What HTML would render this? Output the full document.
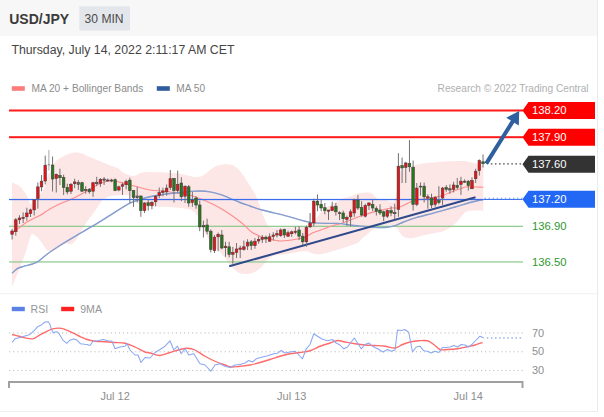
<!DOCTYPE html>
<html><head><meta charset="utf-8"><title>USD/JPY 30 MIN</title>
<style>html,body{margin:0;padding:0;background:#fff}body{width:604px;height:417px;position:relative;overflow:hidden;font-family:"Liberation Sans",sans-serif}</style>
</head><body>
<svg width="604" height="417" viewBox="0 0 604 417" style="position:absolute;left:0;top:0">
<style>
text{font-family:"Liberation Sans",sans-serif}
.lbl{font-size:11.25px}
.ax{font-size:11px;fill:#8e8e8e}
</style>
<rect x="0" y="0" width="597" height="36" fill="#f7f7f7"/>
<rect x="597" y="0" width="1" height="412" fill="#e7eaee"/>
<rect x="0" y="411" width="598" height="1" fill="#eceff2"/>
<rect x="0" y="293.2" width="597" height="1" fill="#eef1f5"/>
<text x="9.2" y="23.6" font-size="14" font-weight="bold" fill="#3b3b3b">USD/JPY</text>
<rect x="79.3" y="6.3" width="50.7" height="24.2" fill="#e3e6ea"/>
<text x="84.6" y="23.0" font-size="12.1" fill="#4a4a4a">30 MIN</text>
<text x="11.4" y="53.6" font-size="12.3" fill="#454545">Thursday, July 14, 2022 2:11:17 AM CET</text>
<rect x="11.8" y="86.2" width="13" height="4.6" fill="#ff7a7a"/>
<text x="31.4" y="91.7" font-size="10.2" fill="#8c8c8c">MA 20 + Bollinger Bands</text>
<rect x="156.8" y="86.2" width="13" height="4.6" fill="#2f5c9c"/>
<text x="176.2" y="91.7" font-size="10.2" fill="#8c8c8c">MA 50</text>
<text x="588.6" y="91.7" font-size="10.15" fill="#b0b0b0" text-anchor="end">Research © 2022 Trading Central</text>
<path d="M12.00,182.50 C13.00,182.92 16.17,183.75 18.00,185.00 C19.83,186.25 21.50,188.17 23.00,190.00 C24.50,191.83 25.67,193.67 27.00,196.00 C28.33,198.33 29.50,203.50 31.00,204.00 C32.50,204.50 34.33,200.83 36.00,199.00 C37.67,197.17 39.55,195.00 41.00,193.00 C42.45,191.00 43.83,188.95 44.70,187.00 C45.57,185.05 45.62,183.27 46.20,181.30 C46.78,179.33 47.20,177.38 48.20,175.20 C49.20,173.02 51.03,170.38 52.20,168.20 C53.37,166.02 53.52,163.95 55.20,162.10 C56.88,160.25 60.28,158.35 62.30,157.10 C64.32,155.85 65.28,155.35 67.30,154.60 C69.32,153.85 71.95,152.77 74.40,152.60 C76.85,152.43 79.82,153.00 82.00,153.60 C84.18,154.20 84.50,154.93 87.50,156.20 C90.50,157.47 95.85,159.53 100.00,161.20 C104.15,162.87 109.28,164.95 112.40,166.20 C115.52,167.45 117.03,167.68 118.70,168.70 C120.37,169.72 120.73,171.25 122.40,172.30 C124.07,173.35 126.82,174.42 128.70,175.00 C130.58,175.58 131.82,176.10 133.70,175.80 C135.58,175.50 138.12,173.80 140.00,173.20 C141.88,172.60 143.17,172.40 145.00,172.20 C146.83,172.00 147.67,171.95 151.00,172.00 C154.33,172.05 160.17,172.21 165.00,172.50 C169.83,172.79 175.00,173.00 180.00,173.75 C185.00,174.50 191.17,176.71 195.00,177.00 C198.83,177.29 200.50,176.67 203.00,175.50 C205.50,174.33 207.67,171.62 210.00,170.00 C212.33,168.38 214.50,166.71 217.00,165.75 C219.50,164.79 222.50,164.38 225.00,164.25 C227.50,164.12 229.83,164.25 232.00,165.00 C234.17,165.75 236.17,167.08 238.00,168.75 C239.83,170.42 241.50,172.92 243.00,175.00 C244.50,177.08 245.67,179.17 247.00,181.25 C248.33,183.33 249.67,185.42 251.00,187.50 C252.33,189.58 253.67,191.04 255.00,193.75 C256.33,196.46 257.83,200.62 259.00,203.75 C260.17,206.88 261.00,209.79 262.00,212.50 C263.00,215.21 264.00,217.83 265.00,220.00 C266.00,222.17 266.83,224.25 268.00,225.50 C269.17,226.75 270.00,227.17 272.00,227.50 C274.00,227.83 276.17,227.58 280.00,227.50 C283.83,227.42 290.33,227.17 295.00,227.00 C299.67,226.83 304.88,227.17 308.00,226.50 C311.12,225.83 312.03,224.75 313.70,223.00 C315.37,221.25 316.28,218.33 318.00,216.00 C319.72,213.67 322.00,210.83 324.00,209.00 C326.00,207.17 327.83,206.25 330.00,205.00 C332.17,203.75 334.83,202.58 337.00,201.50 C339.17,200.42 340.67,199.38 343.00,198.50 C345.33,197.62 348.17,197.12 351.00,196.20 C353.83,195.28 356.83,193.57 360.00,193.00 C363.17,192.43 367.50,192.23 370.00,192.80 C372.50,193.37 373.60,195.30 375.00,196.40 C376.40,197.50 376.73,198.80 378.40,199.40 C380.07,200.00 382.25,199.90 385.00,200.00 C387.75,200.10 392.65,204.00 394.90,200.00 C397.15,196.00 397.28,181.00 398.50,176.00 C399.72,171.00 400.98,171.25 402.20,170.00 C403.42,168.75 404.57,168.97 405.80,168.50 C407.03,168.03 408.37,167.62 409.60,167.20 C410.83,166.78 411.47,166.53 413.20,166.00 C414.93,165.47 417.20,164.53 420.00,164.00 C422.80,163.47 425.83,163.22 430.00,162.80 C434.17,162.38 440.00,161.80 445.00,161.50 C450.00,161.20 456.50,161.03 460.00,161.00 C463.50,160.97 464.00,161.05 466.00,161.30 C468.00,161.55 470.00,162.05 472.00,162.50 C474.00,162.95 476.12,163.50 478.00,164.00 C479.88,164.50 482.42,165.25 483.30,165.50 L483.30,210.50 C481.92,210.50 477.65,210.38 475.00,210.50 C472.35,210.62 469.23,210.70 467.40,211.20 C465.57,211.70 466.07,211.41 464.00,213.50 C461.93,215.59 458.17,220.92 455.00,223.75 C451.83,226.58 448.33,228.96 445.00,230.50 C441.67,232.04 438.77,232.17 435.00,233.00 C431.23,233.83 425.95,234.67 422.40,235.50 C418.85,236.33 416.60,237.67 413.70,238.00 C410.80,238.33 407.28,238.33 405.00,237.50 C402.72,236.67 401.33,234.58 400.00,233.00 C398.67,231.42 398.33,229.30 397.00,228.00 C395.67,226.70 394.00,225.70 392.00,225.20 C390.00,224.70 387.33,224.78 385.00,225.00 C382.67,225.22 380.08,225.67 378.00,226.50 C375.92,227.33 374.25,228.70 372.50,230.00 C370.75,231.30 369.25,232.88 367.50,234.30 C365.75,235.72 363.68,237.03 362.00,238.50 C360.32,239.97 360.23,241.62 357.40,243.10 C354.57,244.58 349.17,246.05 345.00,247.40 C340.83,248.75 335.53,250.27 332.40,251.20 C329.27,252.13 328.27,252.48 326.20,253.00 C324.13,253.52 322.08,254.18 320.00,254.30 C317.92,254.42 315.78,254.17 313.70,253.70 C311.62,253.23 309.78,251.87 307.50,251.50 C305.22,251.13 302.58,251.23 300.00,251.50 C297.42,251.77 294.67,252.62 292.00,253.10 C289.33,253.58 286.50,254.08 284.00,254.40 C281.50,254.72 279.33,254.48 277.00,255.00 C274.67,255.52 271.83,256.37 270.00,257.50 C268.17,258.63 267.50,260.13 266.00,261.80 C264.50,263.47 262.83,265.83 261.00,267.50 C259.17,269.17 257.00,270.77 255.00,271.80 C253.00,272.83 251.33,273.42 249.00,273.70 C246.67,273.98 243.33,274.12 241.00,273.50 C238.67,272.88 236.83,271.42 235.00,270.00 C233.17,268.58 231.67,267.00 230.00,265.00 C228.33,263.00 226.67,260.12 225.00,258.00 C223.33,255.88 221.67,254.04 220.00,252.25 C218.33,250.46 216.67,249.12 215.00,247.25 C213.33,245.38 211.67,243.38 210.00,241.00 C208.33,238.62 206.50,235.83 205.00,233.00 C203.50,230.17 202.17,226.75 201.00,224.00 C199.83,221.25 199.33,218.67 198.00,216.50 C196.67,214.33 194.83,212.30 193.00,211.00 C191.17,209.70 190.00,209.30 187.00,208.70 C184.00,208.10 180.17,207.72 175.00,207.40 C169.83,207.08 160.67,206.95 156.00,206.80 C151.33,206.65 149.50,206.88 147.00,206.50 C144.50,206.12 143.00,205.58 141.00,204.50 C139.00,203.42 136.83,201.42 135.00,200.00 C133.17,198.58 131.52,196.88 130.00,196.00 C128.48,195.12 127.58,194.85 125.90,194.70 C124.22,194.55 122.32,194.88 119.90,195.10 C117.48,195.32 113.58,195.65 111.40,196.00 C109.22,196.35 108.33,196.43 106.80,197.20 C105.27,197.97 103.73,198.97 102.20,200.60 C100.67,202.23 99.32,204.60 97.60,207.00 C95.88,209.40 93.82,212.32 91.90,215.00 C89.98,217.68 87.83,220.42 86.10,223.10 C84.37,225.78 83.15,228.33 81.50,231.10 C79.85,233.87 77.92,237.52 76.20,239.70 C74.48,241.88 73.07,243.60 71.20,244.20 C69.33,244.80 67.33,242.55 65.00,243.30 C62.67,244.05 59.53,247.42 57.20,248.70 C54.87,249.98 52.80,250.87 51.00,251.00 C49.20,251.13 47.67,250.52 46.40,249.50 C45.13,248.48 44.67,246.70 43.40,244.90 C42.13,243.10 40.33,240.35 38.80,238.70 C37.27,237.05 35.48,235.62 34.20,235.00 C32.92,234.38 32.13,233.35 31.10,235.00 C30.07,236.65 29.28,240.95 28.00,244.90 C26.72,248.85 25.18,253.85 23.40,258.70 C21.62,263.55 19.20,269.28 17.30,274.00 C15.40,278.72 12.88,284.83 12.00,287.00 Z" fill="#fde6e6"/>
<rect x="9" y="225.70" width="514" height="1.3" fill="#92cc92"/>
<rect x="9" y="261.30" width="514" height="1.3" fill="#92cc92"/>
<path d="M12.00,233.00 C12.58,232.57 14.08,231.45 15.50,230.40 C16.92,229.35 18.67,228.05 20.50,226.70 C22.33,225.35 24.42,223.62 26.50,222.30 C28.58,220.98 30.68,219.97 33.00,218.80 C35.32,217.63 38.23,216.52 40.40,215.30 C42.57,214.08 44.12,212.72 46.00,211.50 C47.88,210.28 49.08,209.42 51.70,208.00 C54.32,206.58 58.17,204.57 61.70,203.00 C65.23,201.43 69.37,200.23 72.90,198.60 C76.43,196.97 80.30,194.65 82.90,193.20 C85.50,191.75 86.58,191.03 88.50,189.90 C90.42,188.77 92.48,187.43 94.40,186.40 C96.32,185.37 98.23,184.47 100.00,183.70 C101.77,182.93 103.33,182.28 105.00,181.80 C106.67,181.32 108.00,180.85 110.00,180.80 C112.00,180.75 114.50,181.02 117.00,181.50 C119.50,181.98 121.60,182.82 125.00,183.70 C128.40,184.58 133.23,185.75 137.40,186.80 C141.57,187.85 145.40,189.26 150.00,190.00 C154.60,190.74 160.00,190.67 165.00,191.25 C170.00,191.83 176.17,192.96 180.00,193.50 C183.83,194.04 184.58,193.63 188.00,194.50 C191.42,195.37 196.33,197.07 200.50,198.70 C204.67,200.33 208.85,202.22 213.00,204.30 C217.15,206.38 221.23,208.58 225.40,211.20 C229.57,213.82 234.67,217.50 238.00,220.00 C241.33,222.50 243.13,224.20 245.40,226.20 C247.67,228.20 249.10,230.28 251.60,232.00 C254.10,233.72 257.67,235.42 260.40,236.50 C263.13,237.58 264.73,237.75 268.00,238.50 C271.27,239.25 276.00,240.75 280.00,241.00 C284.00,241.25 288.83,240.38 292.00,240.00 C295.17,239.62 296.83,239.13 299.00,238.70 C301.17,238.27 303.00,238.23 305.00,237.40 C307.00,236.57 308.93,234.73 311.00,233.70 C313.07,232.67 315.17,232.03 317.40,231.20 C319.63,230.37 322.30,229.50 324.40,228.70 C326.50,227.90 328.07,227.05 330.00,226.40 C331.93,225.75 333.10,225.67 336.00,224.80 C338.90,223.93 343.40,222.63 347.40,221.20 C351.40,219.77 355.83,217.67 360.00,216.20 C364.17,214.73 368.23,213.55 372.40,212.40 C376.57,211.25 381.65,210.03 385.00,209.30 C388.35,208.57 390.22,208.32 392.50,208.00 C394.78,207.68 395.58,208.43 398.70,207.40 C401.82,206.37 408.08,203.03 411.20,201.80 C414.32,200.57 414.27,200.62 417.40,200.00 C420.53,199.38 425.83,198.83 430.00,198.10 C434.17,197.37 439.07,196.55 442.40,195.60 C445.73,194.65 446.67,193.67 450.00,192.40 C453.33,191.13 459.50,188.93 462.40,188.00 C465.30,187.07 463.92,186.93 467.40,186.80 C470.88,186.67 480.65,187.13 483.30,187.20" fill="none" stroke="#ff8c8c" stroke-width="1.1"/>
<path d="M12.00,273.30 C12.88,272.53 15.40,269.85 17.30,268.70 C19.20,267.55 20.85,267.18 23.40,266.40 C25.95,265.62 30.03,264.90 32.60,264.00 C35.17,263.10 36.23,262.75 38.80,261.00 C41.37,259.25 44.68,255.97 48.00,253.50 C51.32,251.03 54.20,249.07 58.70,246.20 C63.20,243.33 69.38,239.63 75.00,236.30 C80.62,232.97 86.57,229.68 92.40,226.20 C98.23,222.72 103.75,219.25 110.00,215.40 C116.25,211.55 124.07,206.00 129.90,203.10 C135.73,200.20 139.98,199.35 145.00,198.00 C150.02,196.65 155.00,195.83 160.00,195.00 C165.00,194.17 170.00,193.58 175.00,193.00 C180.00,192.42 185.83,191.83 190.00,191.50 C194.17,191.17 196.67,190.95 200.00,191.00 C203.33,191.05 206.67,191.25 210.00,191.80 C213.33,192.35 216.67,193.22 220.00,194.30 C223.33,195.38 226.67,196.93 230.00,198.30 C233.33,199.67 236.67,201.22 240.00,202.50 C243.33,203.78 246.33,204.75 250.00,206.00 C253.67,207.25 255.83,208.30 262.00,210.00 C268.17,211.70 278.67,214.08 287.00,216.20 C295.33,218.32 303.67,221.50 312.00,222.70 C320.33,223.90 330.67,223.02 337.00,223.40 C343.33,223.78 345.33,224.48 350.00,225.00 C354.67,225.52 361.25,226.12 365.00,226.50 C368.75,226.88 369.17,227.13 372.50,227.30 C375.83,227.47 381.25,227.78 385.00,227.50 C388.75,227.22 391.88,226.52 395.00,225.60 C398.12,224.68 400.17,223.33 403.70,222.00 C407.23,220.67 410.98,219.17 416.20,217.60 C421.42,216.03 428.53,214.37 435.00,212.60 C441.47,210.83 449.17,208.68 455.00,207.00 C460.83,205.32 465.28,203.75 470.00,202.50 C474.72,201.25 481.08,200.00 483.30,199.50" fill="none" stroke="#6f8bc4" stroke-width="1.35"/>
<path d="M12.00,273.30 C12.88,272.53 15.40,269.85 17.30,268.70 C19.20,267.55 20.85,267.18 23.40,266.40 C25.95,265.62 30.03,264.90 32.60,264.00 C35.17,263.10 36.23,262.75 38.80,261.00 C41.37,259.25 44.68,255.97 48.00,253.50 C51.32,251.03 54.20,249.07 58.70,246.20 C63.20,243.33 69.38,239.63 75.00,236.30 C80.62,232.97 86.57,229.68 92.40,226.20 C98.23,222.72 103.75,219.25 110.00,215.40 C116.25,211.55 124.07,206.00 129.90,203.10 C135.73,200.20 139.98,199.35 145.00,198.00 C150.02,196.65 155.00,195.83 160.00,195.00 C165.00,194.17 170.00,193.58 175.00,193.00 C180.00,192.42 185.83,191.83 190.00,191.50 C194.17,191.17 196.67,190.95 200.00,191.00 C203.33,191.05 206.67,191.25 210.00,191.80 C213.33,192.35 216.67,193.22 220.00,194.30 C223.33,195.38 226.67,196.93 230.00,198.30 C233.33,199.67 236.67,201.22 240.00,202.50 C243.33,203.78 246.33,204.75 250.00,206.00 C253.67,207.25 255.83,208.30 262.00,210.00 C268.17,211.70 278.67,214.08 287.00,216.20 C295.33,218.32 303.67,221.50 312.00,222.70 C320.33,223.90 330.67,223.02 337.00,223.40 C343.33,223.78 345.33,224.48 350.00,225.00 C354.67,225.52 361.25,226.12 365.00,226.50 C368.75,226.88 369.17,227.13 372.50,227.30 C375.83,227.47 381.25,227.78 385.00,227.50 C388.75,227.22 391.88,226.52 395.00,225.60 C398.12,224.68 400.17,223.33 403.70,222.00 C407.23,220.67 410.98,219.17 416.20,217.60 C421.42,216.03 428.53,214.37 435.00,212.60 C441.47,210.83 449.17,208.68 455.00,207.00 C460.83,205.32 465.28,203.75 470.00,202.50 C474.72,201.25 481.08,200.00 483.30,199.50" fill="none" stroke="#e3e9f6" stroke-width="0.3" opacity="0.8"/>
<rect x="9" y="198.9" width="474.5" height="1.25" fill="#3a6ded"/>
<rect x="483.5" y="198.9" width="39" height="1.1" fill="#3f74ee"/>
<rect x="484.50" y="197.70" width="1.4" height="1.0" fill="#6a92f2"/><rect x="488.57" y="197.70" width="1.4" height="1.0" fill="#6a92f2"/><rect x="492.64" y="197.70" width="1.4" height="1.0" fill="#6a92f2"/><rect x="496.70" y="197.70" width="1.4" height="1.0" fill="#6a92f2"/><rect x="500.77" y="197.70" width="1.4" height="1.0" fill="#6a92f2"/><rect x="504.84" y="197.70" width="1.4" height="1.0" fill="#6a92f2"/><rect x="508.91" y="197.70" width="1.4" height="1.0" fill="#6a92f2"/><rect x="512.98" y="197.70" width="1.4" height="1.0" fill="#6a92f2"/><rect x="517.04" y="197.70" width="1.4" height="1.0" fill="#6a92f2"/><rect x="521.11" y="197.70" width="1.4" height="1.0" fill="#6a92f2"/>
<rect x="9" y="109.5" width="514" height="2" fill="#ff1a1a"/>
<rect x="9" y="136.2" width="514" height="2" fill="#ff1a1a"/>
<line x1="229.2" y1="266.3" x2="475.5" y2="197.3" stroke="#2f4a8c" stroke-width="2.0"/>
<rect x="11.60" y="229.00" width="1" height="10.50" fill="#727272"/>
<rect x="15.28" y="218.00" width="1" height="17.70" fill="#727272"/>
<rect x="18.96" y="215.20" width="1" height="8.80" fill="#727272"/>
<rect x="22.64" y="212.40" width="1" height="10.60" fill="#727272"/>
<rect x="26.32" y="207.70" width="1" height="13.00" fill="#727272"/>
<rect x="30.00" y="208.60" width="1" height="8.40" fill="#727272"/>
<rect x="33.68" y="199.00" width="1" height="16.50" fill="#727272"/>
<rect x="37.36" y="182.50" width="1" height="26.10" fill="#727272"/>
<rect x="41.04" y="175.00" width="1" height="16.20" fill="#727272"/>
<rect x="44.72" y="155.60" width="1" height="28.80" fill="#727272"/>
<rect x="48.39" y="150.00" width="1" height="20.60" fill="#a8a8a8"/>
<rect x="52.07" y="156.50" width="1" height="35.00" fill="#727272"/>
<rect x="55.75" y="173.50" width="1" height="19.00" fill="#727272"/>
<rect x="59.43" y="168.70" width="1" height="16.30" fill="#727272"/>
<rect x="63.11" y="174.70" width="1" height="20.30" fill="#727272"/>
<rect x="66.79" y="183.70" width="1" height="10.70" fill="#727272"/>
<rect x="70.47" y="183.00" width="1" height="11.00" fill="#727272"/>
<rect x="74.15" y="178.70" width="1" height="9.30" fill="#727272"/>
<rect x="77.83" y="180.00" width="1" height="10.00" fill="#727272"/>
<rect x="81.51" y="181.80" width="1" height="10.00" fill="#727272"/>
<rect x="85.18" y="186.20" width="1" height="7.50" fill="#727272"/>
<rect x="88.86" y="188.00" width="1" height="5.70" fill="#727272"/>
<rect x="92.54" y="181.80" width="1" height="15.00" fill="#727272"/>
<rect x="96.22" y="176.80" width="1" height="9.40" fill="#727272"/>
<rect x="99.90" y="178.00" width="1" height="8.80" fill="#727272"/>
<rect x="103.58" y="177.20" width="1" height="7.80" fill="#727272"/>
<rect x="107.26" y="178.50" width="1" height="3.30" fill="#727272"/>
<rect x="110.94" y="178.70" width="1" height="3.50" fill="#727272"/>
<rect x="114.62" y="178.50" width="1" height="12.70" fill="#727272"/>
<rect x="118.30" y="185.60" width="1" height="5.60" fill="#727272"/>
<rect x="121.97" y="182.50" width="1" height="12.50" fill="#727272"/>
<rect x="125.65" y="179.70" width="1" height="9.70" fill="#727272"/>
<rect x="129.33" y="177.70" width="1" height="25.30" fill="#727272"/>
<rect x="133.01" y="190.00" width="1" height="16.80" fill="#727272"/>
<rect x="136.69" y="186.90" width="1" height="15.60" fill="#727272"/>
<rect x="140.37" y="195.60" width="1" height="21.20" fill="#727272"/>
<rect x="144.05" y="202.20" width="1" height="10.80" fill="#727272"/>
<rect x="147.73" y="200.00" width="1" height="10.60" fill="#727272"/>
<rect x="151.41" y="201.20" width="1" height="8.10" fill="#727272"/>
<rect x="155.09" y="195.00" width="1" height="11.20" fill="#727272"/>
<rect x="158.76" y="187.50" width="1" height="10.50" fill="#727272"/>
<rect x="162.44" y="187.70" width="1" height="8.50" fill="#727272"/>
<rect x="166.12" y="184.40" width="1" height="11.20" fill="#727272"/>
<rect x="169.80" y="170.00" width="1" height="20.00" fill="#727272"/>
<rect x="173.48" y="178.00" width="1" height="24.50" fill="#727272"/>
<rect x="177.16" y="170.60" width="1" height="21.90" fill="#727272"/>
<rect x="180.84" y="177.20" width="1" height="24.00" fill="#727272"/>
<rect x="184.52" y="185.20" width="1" height="17.80" fill="#727272"/>
<rect x="188.20" y="185.00" width="1" height="21.80" fill="#727272"/>
<rect x="191.88" y="191.90" width="1" height="14.90" fill="#727272"/>
<rect x="195.55" y="196.20" width="1" height="12.50" fill="#727272"/>
<rect x="199.23" y="200.60" width="1" height="30.60" fill="#727272"/>
<rect x="202.91" y="220.60" width="1" height="16.90" fill="#727272"/>
<rect x="206.59" y="218.70" width="1" height="15.60" fill="#727272"/>
<rect x="210.27" y="229.40" width="1" height="23.00" fill="#727272"/>
<rect x="213.95" y="235.00" width="1" height="18.00" fill="#727272"/>
<rect x="217.63" y="232.50" width="1" height="18.70" fill="#727272"/>
<rect x="221.31" y="230.00" width="1" height="19.30" fill="#727272"/>
<rect x="224.99" y="241.80" width="1" height="15.00" fill="#727272"/>
<rect x="228.67" y="241.80" width="1" height="15.60" fill="#727272"/>
<rect x="232.34" y="246.80" width="1" height="16.90" fill="#727272"/>
<rect x="236.02" y="243.00" width="1" height="15.00" fill="#727272"/>
<rect x="239.70" y="245.60" width="1" height="12.40" fill="#727272"/>
<rect x="243.38" y="240.60" width="1" height="10.00" fill="#727272"/>
<rect x="247.06" y="239.30" width="1" height="10.70" fill="#727272"/>
<rect x="250.74" y="240.00" width="1" height="10.00" fill="#727272"/>
<rect x="254.42" y="238.00" width="1" height="10.70" fill="#727272"/>
<rect x="258.10" y="236.20" width="1" height="7.50" fill="#727272"/>
<rect x="261.78" y="235.00" width="1" height="8.00" fill="#727272"/>
<rect x="265.46" y="235.60" width="1" height="7.40" fill="#727272"/>
<rect x="269.13" y="233.40" width="1" height="8.40" fill="#727272"/>
<rect x="272.81" y="232.20" width="1" height="8.40" fill="#727272"/>
<rect x="276.49" y="230.00" width="1" height="7.40" fill="#727272"/>
<rect x="280.17" y="228.50" width="1" height="8.30" fill="#727272"/>
<rect x="283.85" y="228.70" width="1" height="9.30" fill="#727272"/>
<rect x="287.53" y="230.60" width="1" height="6.20" fill="#727272"/>
<rect x="291.21" y="230.60" width="1" height="6.20" fill="#727272"/>
<rect x="294.89" y="226.80" width="1" height="7.50" fill="#727272"/>
<rect x="298.57" y="226.20" width="1" height="13.80" fill="#727272"/>
<rect x="302.25" y="233.00" width="1" height="12.00" fill="#727272"/>
<rect x="305.92" y="225.60" width="1" height="21.20" fill="#727272"/>
<rect x="309.60" y="213.00" width="1" height="15.00" fill="#727272"/>
<rect x="313.28" y="198.70" width="1" height="27.50" fill="#727272"/>
<rect x="316.96" y="194.40" width="1" height="16.80" fill="#727272"/>
<rect x="320.64" y="200.00" width="1" height="11.20" fill="#727272"/>
<rect x="324.32" y="203.00" width="1" height="11.30" fill="#727272"/>
<rect x="328.00" y="210.00" width="1" height="10.00" fill="#727272"/>
<rect x="331.68" y="201.80" width="1" height="9.40" fill="#727272"/>
<rect x="335.36" y="203.00" width="1" height="12.60" fill="#727272"/>
<rect x="339.04" y="211.20" width="1" height="8.80" fill="#727272"/>
<rect x="342.71" y="210.60" width="1" height="11.80" fill="#727272"/>
<rect x="346.39" y="215.60" width="1" height="10.00" fill="#727272"/>
<rect x="350.07" y="209.30" width="1" height="16.90" fill="#727272"/>
<rect x="353.75" y="198.70" width="1" height="18.10" fill="#727272"/>
<rect x="357.43" y="195.00" width="1" height="15.00" fill="#727272"/>
<rect x="361.11" y="201.20" width="1" height="15.60" fill="#727272"/>
<rect x="364.79" y="203.70" width="1" height="13.70" fill="#727272"/>
<rect x="368.47" y="202.20" width="1" height="7.80" fill="#727272"/>
<rect x="372.15" y="199.30" width="1" height="11.90" fill="#727272"/>
<rect x="375.83" y="206.20" width="1" height="9.40" fill="#727272"/>
<rect x="379.50" y="204.30" width="1" height="10.70" fill="#727272"/>
<rect x="383.18" y="210.60" width="1" height="10.60" fill="#727272"/>
<rect x="386.86" y="209.30" width="1" height="8.70" fill="#727272"/>
<rect x="390.54" y="206.20" width="1" height="10.00" fill="#727272"/>
<rect x="394.22" y="203.70" width="1" height="15.60" fill="#727272"/>
<rect x="397.90" y="153.10" width="1" height="63.70" fill="#727272"/>
<rect x="401.58" y="157.50" width="1" height="25.50" fill="#727272"/>
<rect x="405.26" y="161.80" width="1" height="21.20" fill="#727272"/>
<rect x="408.94" y="140.00" width="1" height="31.80" fill="#727272"/>
<rect x="412.62" y="160.60" width="1" height="50.00" fill="#727272"/>
<rect x="416.29" y="183.00" width="1" height="23.20" fill="#727272"/>
<rect x="419.97" y="182.50" width="1" height="13.10" fill="#727272"/>
<rect x="423.65" y="182.50" width="1" height="20.00" fill="#727272"/>
<rect x="427.33" y="194.30" width="1" height="14.40" fill="#727272"/>
<rect x="431.01" y="193.70" width="1" height="14.30" fill="#727272"/>
<rect x="434.69" y="196.20" width="1" height="10.60" fill="#727272"/>
<rect x="438.37" y="186.20" width="1" height="18.10" fill="#727272"/>
<rect x="442.05" y="186.90" width="1" height="18.10" fill="#727272"/>
<rect x="445.73" y="185.00" width="1" height="6.80" fill="#727272"/>
<rect x="449.41" y="184.40" width="1" height="9.30" fill="#727272"/>
<rect x="453.08" y="181.80" width="1" height="10.60" fill="#727272"/>
<rect x="456.76" y="178.00" width="1" height="11.30" fill="#727272"/>
<rect x="460.44" y="176.80" width="1" height="18.10" fill="#727272"/>
<rect x="464.12" y="179.30" width="1" height="3.70" fill="#727272"/>
<rect x="467.80" y="180.00" width="1" height="10.60" fill="#727272"/>
<rect x="471.48" y="177.40" width="1" height="11.90" fill="#727272"/>
<rect x="475.16" y="168.70" width="1" height="14.30" fill="#727272"/>
<rect x="478.84" y="159.40" width="1" height="16.20" fill="#727272"/>
<rect x="482.52" y="154.40" width="1" height="13.10" fill="#727272"/>
<rect x="10.80" y="231.00" width="2.6" height="3.20" fill="#ec1016" stroke="#523c3c" stroke-width="0.6"/>
<rect x="14.48" y="219.80" width="2.6" height="11.90" fill="#ec1016" stroke="#523c3c" stroke-width="0.6"/>
<rect x="18.16" y="218.00" width="2.6" height="1.80" fill="#ec1016" stroke="#523c3c" stroke-width="0.6"/>
<rect x="21.84" y="217.40" width="2.6" height="1.20" fill="#ec1016" stroke="#523c3c" stroke-width="0.6"/>
<rect x="25.52" y="213.00" width="2.6" height="3.70" fill="#ec1016" stroke="#523c3c" stroke-width="0.6"/>
<rect x="29.20" y="209.90" width="2.6" height="3.70" fill="#ec1016" stroke="#523c3c" stroke-width="0.6"/>
<rect x="32.88" y="199.90" width="2.6" height="10.00" fill="#ec1016" stroke="#523c3c" stroke-width="0.6"/>
<rect x="36.56" y="186.90" width="2.6" height="11.70" fill="#ec1016" stroke="#523c3c" stroke-width="0.6"/>
<rect x="40.24" y="181.20" width="2.6" height="5.70" fill="#ec1016" stroke="#523c3c" stroke-width="0.6"/>
<rect x="43.92" y="165.20" width="2.6" height="15.80" fill="#ec1016" stroke="#523c3c" stroke-width="0.6"/>
<rect x="47.69" y="164.20" width="2.4" height="1.00" fill="#888"/>
<rect x="51.27" y="165.00" width="2.6" height="14.00" fill="#1b7d1b" stroke="#523c3c" stroke-width="0.6"/>
<rect x="54.95" y="174.40" width="2.6" height="4.10" fill="#ec1016" stroke="#523c3c" stroke-width="0.6"/>
<rect x="58.63" y="175.60" width="2.6" height="2.10" fill="#1b7d1b" stroke="#523c3c" stroke-width="0.6"/>
<rect x="62.31" y="177.50" width="2.6" height="10.00" fill="#1b7d1b" stroke="#523c3c" stroke-width="0.6"/>
<rect x="65.99" y="187.50" width="2.6" height="4.40" fill="#1b7d1b" stroke="#523c3c" stroke-width="0.6"/>
<rect x="69.67" y="184.40" width="2.6" height="6.80" fill="#ec1016" stroke="#523c3c" stroke-width="0.6"/>
<rect x="73.35" y="181.90" width="2.6" height="1.80" fill="#ec1016" stroke="#523c3c" stroke-width="0.6"/>
<rect x="77.03" y="182.40" width="2.6" height="1.90" fill="#6a6a6a" stroke="#523c3c" stroke-width="0.6"/>
<rect x="80.71" y="182.70" width="2.6" height="8.50" fill="#1b7d1b" stroke="#523c3c" stroke-width="0.6"/>
<rect x="84.38" y="189.30" width="2.6" height="1.30" fill="#6a6a6a" stroke="#523c3c" stroke-width="0.6"/>
<rect x="88.06" y="189.30" width="2.6" height="2.50" fill="#1b7d1b" stroke="#523c3c" stroke-width="0.6"/>
<rect x="91.74" y="182.70" width="2.6" height="8.50" fill="#ec1016" stroke="#523c3c" stroke-width="0.6"/>
<rect x="95.42" y="182.20" width="2.6" height="1.50" fill="#6a6a6a" stroke="#523c3c" stroke-width="0.6"/>
<rect x="99.10" y="179.60" width="2.6" height="3.80" fill="#ec1016" stroke="#523c3c" stroke-width="0.6"/>
<rect x="102.78" y="179.00" width="2.6" height="1.20" fill="#6a6a6a" stroke="#523c3c" stroke-width="0.6"/>
<rect x="106.46" y="180.00" width="2.6" height="1.00" fill="#6a6a6a" stroke="#523c3c" stroke-width="0.6"/>
<rect x="110.14" y="180.00" width="2.6" height="1.00" fill="#6a6a6a" stroke="#523c3c" stroke-width="0.6"/>
<rect x="113.82" y="179.70" width="2.6" height="10.90" fill="#1b7d1b" stroke="#523c3c" stroke-width="0.6"/>
<rect x="117.50" y="186.80" width="2.6" height="3.20" fill="#ec1016" stroke="#523c3c" stroke-width="0.6"/>
<rect x="121.17" y="184.70" width="2.6" height="1.50" fill="#ec1016" stroke="#523c3c" stroke-width="0.6"/>
<rect x="124.85" y="181.50" width="2.6" height="3.20" fill="#ec1016" stroke="#523c3c" stroke-width="0.6"/>
<rect x="128.53" y="180.20" width="2.6" height="10.40" fill="#1b7d1b" stroke="#523c3c" stroke-width="0.6"/>
<rect x="132.21" y="190.60" width="2.6" height="6.90" fill="#1b7d1b" stroke="#523c3c" stroke-width="0.6"/>
<rect x="135.89" y="196.00" width="2.6" height="1.50" fill="#6a6a6a" stroke="#523c3c" stroke-width="0.6"/>
<rect x="139.57" y="196.00" width="2.6" height="14.60" fill="#1b7d1b" stroke="#523c3c" stroke-width="0.6"/>
<rect x="143.25" y="203.00" width="2.6" height="7.60" fill="#ec1016" stroke="#523c3c" stroke-width="0.6"/>
<rect x="146.93" y="202.70" width="2.6" height="2.90" fill="#1b7d1b" stroke="#523c3c" stroke-width="0.6"/>
<rect x="150.61" y="202.50" width="2.6" height="3.10" fill="#ec1016" stroke="#523c3c" stroke-width="0.6"/>
<rect x="154.29" y="196.20" width="2.6" height="5.60" fill="#ec1016" stroke="#523c3c" stroke-width="0.6"/>
<rect x="157.96" y="192.50" width="2.6" height="3.10" fill="#ec1016" stroke="#523c3c" stroke-width="0.6"/>
<rect x="161.64" y="191.00" width="2.6" height="1.50" fill="#ec1016" stroke="#523c3c" stroke-width="0.6"/>
<rect x="165.32" y="188.10" width="2.6" height="3.80" fill="#ec1016" stroke="#523c3c" stroke-width="0.6"/>
<rect x="169.00" y="178.70" width="2.6" height="8.80" fill="#ec1016" stroke="#523c3c" stroke-width="0.6"/>
<rect x="172.68" y="178.40" width="2.6" height="12.20" fill="#1b7d1b" stroke="#523c3c" stroke-width="0.6"/>
<rect x="176.36" y="184.30" width="2.6" height="6.30" fill="#ec1016" stroke="#523c3c" stroke-width="0.6"/>
<rect x="180.04" y="183.00" width="2.6" height="13.80" fill="#1b7d1b" stroke="#523c3c" stroke-width="0.6"/>
<rect x="183.72" y="186.40" width="2.6" height="9.80" fill="#ec1016" stroke="#523c3c" stroke-width="0.6"/>
<rect x="187.40" y="186.80" width="2.6" height="16.20" fill="#1b7d1b" stroke="#523c3c" stroke-width="0.6"/>
<rect x="191.07" y="200.00" width="2.6" height="2.50" fill="#ec1016" stroke="#523c3c" stroke-width="0.6"/>
<rect x="194.75" y="198.00" width="2.6" height="7.00" fill="#1b7d1b" stroke="#523c3c" stroke-width="0.6"/>
<rect x="198.43" y="205.00" width="2.6" height="21.90" fill="#1b7d1b" stroke="#523c3c" stroke-width="0.6"/>
<rect x="202.11" y="225.60" width="2.6" height="1.30" fill="#1b7d1b" stroke="#523c3c" stroke-width="0.6"/>
<rect x="205.79" y="225.00" width="2.6" height="6.20" fill="#1b7d1b" stroke="#523c3c" stroke-width="0.6"/>
<rect x="209.47" y="231.20" width="2.6" height="18.10" fill="#1b7d1b" stroke="#523c3c" stroke-width="0.6"/>
<rect x="213.15" y="237.20" width="2.6" height="13.40" fill="#ec1016" stroke="#523c3c" stroke-width="0.6"/>
<rect x="216.83" y="234.30" width="2.6" height="2.50" fill="#ec1016" stroke="#523c3c" stroke-width="0.6"/>
<rect x="220.51" y="235.00" width="2.6" height="13.00" fill="#1b7d1b" stroke="#523c3c" stroke-width="0.6"/>
<rect x="224.19" y="246.20" width="2.6" height="1.50" fill="#ec1016" stroke="#523c3c" stroke-width="0.6"/>
<rect x="227.87" y="246.80" width="2.6" height="7.50" fill="#1b7d1b" stroke="#523c3c" stroke-width="0.6"/>
<rect x="231.54" y="252.40" width="2.6" height="1.90" fill="#ec1016" stroke="#523c3c" stroke-width="0.6"/>
<rect x="235.22" y="249.00" width="2.6" height="3.40" fill="#ec1016" stroke="#523c3c" stroke-width="0.6"/>
<rect x="238.90" y="248.00" width="2.6" height="1.30" fill="#ec1016" stroke="#523c3c" stroke-width="0.6"/>
<rect x="242.58" y="246.80" width="2.6" height="2.50" fill="#ec1016" stroke="#523c3c" stroke-width="0.6"/>
<rect x="246.26" y="242.20" width="2.6" height="3.80" fill="#ec1016" stroke="#523c3c" stroke-width="0.6"/>
<rect x="249.94" y="241.80" width="2.6" height="3.80" fill="#1b7d1b" stroke="#523c3c" stroke-width="0.6"/>
<rect x="253.62" y="241.20" width="2.6" height="4.40" fill="#ec1016" stroke="#523c3c" stroke-width="0.6"/>
<rect x="257.30" y="239.30" width="2.6" height="1.70" fill="#ec1016" stroke="#523c3c" stroke-width="0.6"/>
<rect x="260.98" y="237.40" width="2.6" height="1.90" fill="#ec1016" stroke="#523c3c" stroke-width="0.6"/>
<rect x="264.66" y="237.20" width="2.6" height="1.80" fill="#1b7d1b" stroke="#523c3c" stroke-width="0.6"/>
<rect x="268.33" y="236.80" width="2.6" height="4.40" fill="#ec1016" stroke="#523c3c" stroke-width="0.6"/>
<rect x="272.01" y="235.00" width="2.6" height="1.40" fill="#ec1016" stroke="#523c3c" stroke-width="0.6"/>
<rect x="275.69" y="233.70" width="2.6" height="1.30" fill="#ec1016" stroke="#523c3c" stroke-width="0.6"/>
<rect x="279.37" y="230.00" width="2.6" height="5.60" fill="#ec1016" stroke="#523c3c" stroke-width="0.6"/>
<rect x="283.05" y="229.30" width="2.6" height="5.70" fill="#1b7d1b" stroke="#523c3c" stroke-width="0.6"/>
<rect x="286.73" y="232.70" width="2.6" height="3.50" fill="#ec1016" stroke="#523c3c" stroke-width="0.6"/>
<rect x="290.41" y="231.80" width="2.6" height="1.90" fill="#ec1016" stroke="#523c3c" stroke-width="0.6"/>
<rect x="294.09" y="231.20" width="2.6" height="1.20" fill="#ec1016" stroke="#523c3c" stroke-width="0.6"/>
<rect x="297.77" y="230.00" width="2.6" height="6.20" fill="#1b7d1b" stroke="#523c3c" stroke-width="0.6"/>
<rect x="301.44" y="236.20" width="2.6" height="5.60" fill="#1b7d1b" stroke="#523c3c" stroke-width="0.6"/>
<rect x="305.12" y="227.50" width="2.6" height="14.30" fill="#ec1016" stroke="#523c3c" stroke-width="0.6"/>
<rect x="308.80" y="223.00" width="2.6" height="3.80" fill="#ec1016" stroke="#523c3c" stroke-width="0.6"/>
<rect x="312.48" y="201.20" width="2.6" height="21.80" fill="#ec1016" stroke="#523c3c" stroke-width="0.6"/>
<rect x="316.16" y="201.20" width="2.6" height="3.80" fill="#1b7d1b" stroke="#523c3c" stroke-width="0.6"/>
<rect x="319.84" y="204.30" width="2.6" height="3.70" fill="#1b7d1b" stroke="#523c3c" stroke-width="0.6"/>
<rect x="323.52" y="207.70" width="2.6" height="2.90" fill="#1b7d1b" stroke="#523c3c" stroke-width="0.6"/>
<rect x="327.20" y="210.00" width="2.6" height="1.20" fill="#ec1016" stroke="#523c3c" stroke-width="0.6"/>
<rect x="330.88" y="206.80" width="2.6" height="3.80" fill="#ec1016" stroke="#523c3c" stroke-width="0.6"/>
<rect x="334.56" y="206.20" width="2.6" height="5.60" fill="#1b7d1b" stroke="#523c3c" stroke-width="0.6"/>
<rect x="338.24" y="212.70" width="2.6" height="1.00" fill="#6a6a6a" stroke="#523c3c" stroke-width="0.6"/>
<rect x="341.91" y="213.00" width="2.6" height="5.70" fill="#1b7d1b" stroke="#523c3c" stroke-width="0.6"/>
<rect x="345.59" y="217.40" width="2.6" height="1.90" fill="#ec1016" stroke="#523c3c" stroke-width="0.6"/>
<rect x="349.27" y="211.80" width="2.6" height="5.00" fill="#ec1016" stroke="#523c3c" stroke-width="0.6"/>
<rect x="352.95" y="200.00" width="2.6" height="13.00" fill="#ec1016" stroke="#523c3c" stroke-width="0.6"/>
<rect x="356.63" y="200.00" width="2.6" height="8.00" fill="#1b7d1b" stroke="#523c3c" stroke-width="0.6"/>
<rect x="360.31" y="207.50" width="2.6" height="7.50" fill="#1b7d1b" stroke="#523c3c" stroke-width="0.6"/>
<rect x="363.99" y="205.60" width="2.6" height="10.60" fill="#ec1016" stroke="#523c3c" stroke-width="0.6"/>
<rect x="367.67" y="203.00" width="2.6" height="2.60" fill="#ec1016" stroke="#523c3c" stroke-width="0.6"/>
<rect x="371.35" y="204.30" width="2.6" height="3.70" fill="#1b7d1b" stroke="#523c3c" stroke-width="0.6"/>
<rect x="375.03" y="208.50" width="2.6" height="2.70" fill="#1b7d1b" stroke="#523c3c" stroke-width="0.6"/>
<rect x="378.70" y="210.00" width="2.6" height="3.00" fill="#1b7d1b" stroke="#523c3c" stroke-width="0.6"/>
<rect x="382.38" y="211.80" width="2.6" height="4.40" fill="#1b7d1b" stroke="#523c3c" stroke-width="0.6"/>
<rect x="386.06" y="210.60" width="2.6" height="5.60" fill="#ec1016" stroke="#523c3c" stroke-width="0.6"/>
<rect x="389.74" y="210.60" width="2.6" height="2.40" fill="#1b7d1b" stroke="#523c3c" stroke-width="0.6"/>
<rect x="393.42" y="212.40" width="2.6" height="1.30" fill="#6a6a6a" stroke="#523c3c" stroke-width="0.6"/>
<rect x="397.10" y="166.20" width="2.6" height="43.10" fill="#ec1016" stroke="#523c3c" stroke-width="0.6"/>
<rect x="400.78" y="165.60" width="2.6" height="2.40" fill="#1b7d1b" stroke="#523c3c" stroke-width="0.6"/>
<rect x="404.46" y="163.00" width="2.6" height="4.40" fill="#ec1016" stroke="#523c3c" stroke-width="0.6"/>
<rect x="408.14" y="163.50" width="2.6" height="3.30" fill="#1b7d1b" stroke="#523c3c" stroke-width="0.6"/>
<rect x="411.81" y="167.20" width="2.6" height="37.10" fill="#1b7d1b" stroke="#523c3c" stroke-width="0.6"/>
<rect x="415.49" y="188.10" width="2.6" height="16.20" fill="#ec1016" stroke="#523c3c" stroke-width="0.6"/>
<rect x="419.17" y="186.20" width="2.6" height="0.80" fill="#6a6a6a" stroke="#523c3c" stroke-width="0.6"/>
<rect x="422.85" y="186.20" width="2.6" height="10.60" fill="#1b7d1b" stroke="#523c3c" stroke-width="0.6"/>
<rect x="426.53" y="196.80" width="2.6" height="1.20" fill="#ec1016" stroke="#523c3c" stroke-width="0.6"/>
<rect x="430.21" y="198.00" width="2.6" height="7.00" fill="#1b7d1b" stroke="#523c3c" stroke-width="0.6"/>
<rect x="433.89" y="197.50" width="2.6" height="6.80" fill="#ec1016" stroke="#523c3c" stroke-width="0.6"/>
<rect x="437.57" y="200.60" width="2.6" height="1.90" fill="#1b7d1b" stroke="#523c3c" stroke-width="0.6"/>
<rect x="441.25" y="188.10" width="2.6" height="9.90" fill="#ec1016" stroke="#523c3c" stroke-width="0.6"/>
<rect x="444.93" y="187.50" width="2.6" height="1.90" fill="#1b7d1b" stroke="#523c3c" stroke-width="0.6"/>
<rect x="448.61" y="188.70" width="2.6" height="1.30" fill="#6a6a6a" stroke="#523c3c" stroke-width="0.6"/>
<rect x="452.28" y="185.00" width="2.6" height="4.40" fill="#ec1016" stroke="#523c3c" stroke-width="0.6"/>
<rect x="455.96" y="185.60" width="2.6" height="1.80" fill="#1b7d1b" stroke="#523c3c" stroke-width="0.6"/>
<rect x="459.64" y="181.20" width="2.6" height="3.10" fill="#ec1016" stroke="#523c3c" stroke-width="0.6"/>
<rect x="463.32" y="181.20" width="2.6" height="1.00" fill="#6a6a6a" stroke="#523c3c" stroke-width="0.6"/>
<rect x="467.00" y="181.20" width="2.6" height="4.40" fill="#1b7d1b" stroke="#523c3c" stroke-width="0.6"/>
<rect x="470.68" y="180.60" width="2.6" height="8.10" fill="#ec1016" stroke="#523c3c" stroke-width="0.6"/>
<rect x="474.36" y="171.20" width="2.6" height="7.50" fill="#ec1016" stroke="#523c3c" stroke-width="0.6"/>
<rect x="478.04" y="160.60" width="2.6" height="10.00" fill="#ec1016" stroke="#523c3c" stroke-width="0.6"/>
<rect x="481.72" y="161.80" width="2.6" height="1.90" fill="#1b7d1b" stroke="#523c3c" stroke-width="0.6"/>
<rect x="490.80" y="163.25" width="1.6" height="1.3" fill="#555"/><rect x="494.90" y="163.25" width="1.6" height="1.3" fill="#555"/><rect x="499.00" y="163.25" width="1.6" height="1.3" fill="#555"/><rect x="503.10" y="163.25" width="1.6" height="1.3" fill="#555"/><rect x="507.20" y="163.25" width="1.6" height="1.3" fill="#555"/><rect x="511.30" y="163.25" width="1.6" height="1.3" fill="#555"/><rect x="515.40" y="163.25" width="1.6" height="1.3" fill="#555"/><rect x="519.50" y="163.25" width="1.6" height="1.3" fill="#555"/>
<path d="M487.9,164.7 L514.3,122.7 L518.8,125.5 L519.2,111.0 L506.3,117.7 L510.9,120.5 L484.5,162.5 Z" fill="#2e5f9e"/>
<path d="M522.5,110.50 L528.5,102.00 L595,102.00 L595,119.00 L528.5,119.00 Z" fill="#ff0000"/><text x="532.0" y="114.20" class="lbl" fill="#fff">138.20</text>
<path d="M522.5,137.20 L528.5,128.70 L595,128.70 L595,145.70 L528.5,145.70 Z" fill="#ff0000"/><text x="532.0" y="140.90" class="lbl" fill="#fff">137.90</text>
<path d="M522.5,164.20 L528.5,155.70 L595,155.70 L595,172.70 L528.5,172.70 Z" fill="#333333"/><text x="532.0" y="167.90" class="lbl" fill="#fff">137.60</text>
<path d="M522.5,199.20 L528.5,190.70 L595,190.70 L595,207.70 L528.5,207.70 Z" fill="#2368f5"/><text x="532.0" y="202.90" class="lbl" fill="#fff">137.20</text>
<text x="532.0" y="230.10" class="lbl" fill="#2e982e">136.90</text>
<text x="532.0" y="265.70" class="lbl" fill="#2e982e">136.50</text>
<rect x="11.8" y="306.8" width="13" height="4.4" fill="#5b80e6"/>
<text x="30.6" y="312.6" font-size="10.6" fill="#959595">RSI</text>
<rect x="61.2" y="306.8" width="13" height="4.4" fill="#ff2020"/>
<text x="80.2" y="312.6" font-size="10.6" fill="#959595">9MA</text>
<rect x="9.10" y="332.45" width="1.1" height="1.1" fill="#bdbdbd"/><rect x="13.17" y="332.45" width="1.1" height="1.1" fill="#bdbdbd"/><rect x="17.24" y="332.45" width="1.1" height="1.1" fill="#bdbdbd"/><rect x="21.30" y="332.45" width="1.1" height="1.1" fill="#bdbdbd"/><rect x="25.37" y="332.45" width="1.1" height="1.1" fill="#bdbdbd"/><rect x="29.44" y="332.45" width="1.1" height="1.1" fill="#bdbdbd"/><rect x="33.51" y="332.45" width="1.1" height="1.1" fill="#bdbdbd"/><rect x="37.58" y="332.45" width="1.1" height="1.1" fill="#bdbdbd"/><rect x="41.64" y="332.45" width="1.1" height="1.1" fill="#bdbdbd"/><rect x="45.71" y="332.45" width="1.1" height="1.1" fill="#bdbdbd"/><rect x="49.78" y="332.45" width="1.1" height="1.1" fill="#bdbdbd"/><rect x="53.85" y="332.45" width="1.1" height="1.1" fill="#bdbdbd"/><rect x="57.92" y="332.45" width="1.1" height="1.1" fill="#bdbdbd"/><rect x="61.98" y="332.45" width="1.1" height="1.1" fill="#bdbdbd"/><rect x="66.05" y="332.45" width="1.1" height="1.1" fill="#bdbdbd"/><rect x="70.12" y="332.45" width="1.1" height="1.1" fill="#bdbdbd"/><rect x="74.19" y="332.45" width="1.1" height="1.1" fill="#bdbdbd"/><rect x="78.26" y="332.45" width="1.1" height="1.1" fill="#bdbdbd"/><rect x="82.32" y="332.45" width="1.1" height="1.1" fill="#bdbdbd"/><rect x="86.39" y="332.45" width="1.1" height="1.1" fill="#bdbdbd"/><rect x="90.46" y="332.45" width="1.1" height="1.1" fill="#bdbdbd"/><rect x="94.53" y="332.45" width="1.1" height="1.1" fill="#bdbdbd"/><rect x="98.60" y="332.45" width="1.1" height="1.1" fill="#bdbdbd"/><rect x="102.66" y="332.45" width="1.1" height="1.1" fill="#bdbdbd"/><rect x="106.73" y="332.45" width="1.1" height="1.1" fill="#bdbdbd"/><rect x="110.80" y="332.45" width="1.1" height="1.1" fill="#bdbdbd"/><rect x="114.87" y="332.45" width="1.1" height="1.1" fill="#bdbdbd"/><rect x="118.94" y="332.45" width="1.1" height="1.1" fill="#bdbdbd"/><rect x="123.00" y="332.45" width="1.1" height="1.1" fill="#bdbdbd"/><rect x="127.07" y="332.45" width="1.1" height="1.1" fill="#bdbdbd"/><rect x="131.14" y="332.45" width="1.1" height="1.1" fill="#bdbdbd"/><rect x="135.21" y="332.45" width="1.1" height="1.1" fill="#bdbdbd"/><rect x="139.28" y="332.45" width="1.1" height="1.1" fill="#bdbdbd"/><rect x="143.34" y="332.45" width="1.1" height="1.1" fill="#bdbdbd"/><rect x="147.41" y="332.45" width="1.1" height="1.1" fill="#bdbdbd"/><rect x="151.48" y="332.45" width="1.1" height="1.1" fill="#bdbdbd"/><rect x="155.55" y="332.45" width="1.1" height="1.1" fill="#bdbdbd"/><rect x="159.62" y="332.45" width="1.1" height="1.1" fill="#bdbdbd"/><rect x="163.68" y="332.45" width="1.1" height="1.1" fill="#bdbdbd"/><rect x="167.75" y="332.45" width="1.1" height="1.1" fill="#bdbdbd"/><rect x="171.82" y="332.45" width="1.1" height="1.1" fill="#bdbdbd"/><rect x="175.89" y="332.45" width="1.1" height="1.1" fill="#bdbdbd"/><rect x="179.96" y="332.45" width="1.1" height="1.1" fill="#bdbdbd"/><rect x="184.02" y="332.45" width="1.1" height="1.1" fill="#bdbdbd"/><rect x="188.09" y="332.45" width="1.1" height="1.1" fill="#bdbdbd"/><rect x="192.16" y="332.45" width="1.1" height="1.1" fill="#bdbdbd"/><rect x="196.23" y="332.45" width="1.1" height="1.1" fill="#bdbdbd"/><rect x="200.30" y="332.45" width="1.1" height="1.1" fill="#bdbdbd"/><rect x="204.36" y="332.45" width="1.1" height="1.1" fill="#bdbdbd"/><rect x="208.43" y="332.45" width="1.1" height="1.1" fill="#bdbdbd"/><rect x="212.50" y="332.45" width="1.1" height="1.1" fill="#bdbdbd"/><rect x="216.57" y="332.45" width="1.1" height="1.1" fill="#bdbdbd"/><rect x="220.64" y="332.45" width="1.1" height="1.1" fill="#bdbdbd"/><rect x="224.70" y="332.45" width="1.1" height="1.1" fill="#bdbdbd"/><rect x="228.77" y="332.45" width="1.1" height="1.1" fill="#bdbdbd"/><rect x="232.84" y="332.45" width="1.1" height="1.1" fill="#bdbdbd"/><rect x="236.91" y="332.45" width="1.1" height="1.1" fill="#bdbdbd"/><rect x="240.98" y="332.45" width="1.1" height="1.1" fill="#bdbdbd"/><rect x="245.04" y="332.45" width="1.1" height="1.1" fill="#bdbdbd"/><rect x="249.11" y="332.45" width="1.1" height="1.1" fill="#bdbdbd"/><rect x="253.18" y="332.45" width="1.1" height="1.1" fill="#bdbdbd"/><rect x="257.25" y="332.45" width="1.1" height="1.1" fill="#bdbdbd"/><rect x="261.32" y="332.45" width="1.1" height="1.1" fill="#bdbdbd"/><rect x="265.38" y="332.45" width="1.1" height="1.1" fill="#bdbdbd"/><rect x="269.45" y="332.45" width="1.1" height="1.1" fill="#bdbdbd"/><rect x="273.52" y="332.45" width="1.1" height="1.1" fill="#bdbdbd"/><rect x="277.59" y="332.45" width="1.1" height="1.1" fill="#bdbdbd"/><rect x="281.66" y="332.45" width="1.1" height="1.1" fill="#bdbdbd"/><rect x="285.72" y="332.45" width="1.1" height="1.1" fill="#bdbdbd"/><rect x="289.79" y="332.45" width="1.1" height="1.1" fill="#bdbdbd"/><rect x="293.86" y="332.45" width="1.1" height="1.1" fill="#bdbdbd"/><rect x="297.93" y="332.45" width="1.1" height="1.1" fill="#bdbdbd"/><rect x="302.00" y="332.45" width="1.1" height="1.1" fill="#bdbdbd"/><rect x="306.06" y="332.45" width="1.1" height="1.1" fill="#bdbdbd"/><rect x="310.13" y="332.45" width="1.1" height="1.1" fill="#bdbdbd"/><rect x="314.20" y="332.45" width="1.1" height="1.1" fill="#bdbdbd"/><rect x="318.27" y="332.45" width="1.1" height="1.1" fill="#bdbdbd"/><rect x="322.34" y="332.45" width="1.1" height="1.1" fill="#bdbdbd"/><rect x="326.40" y="332.45" width="1.1" height="1.1" fill="#bdbdbd"/><rect x="330.47" y="332.45" width="1.1" height="1.1" fill="#bdbdbd"/><rect x="334.54" y="332.45" width="1.1" height="1.1" fill="#bdbdbd"/><rect x="338.61" y="332.45" width="1.1" height="1.1" fill="#bdbdbd"/><rect x="342.68" y="332.45" width="1.1" height="1.1" fill="#bdbdbd"/><rect x="346.74" y="332.45" width="1.1" height="1.1" fill="#bdbdbd"/><rect x="350.81" y="332.45" width="1.1" height="1.1" fill="#bdbdbd"/><rect x="354.88" y="332.45" width="1.1" height="1.1" fill="#bdbdbd"/><rect x="358.95" y="332.45" width="1.1" height="1.1" fill="#bdbdbd"/><rect x="363.02" y="332.45" width="1.1" height="1.1" fill="#bdbdbd"/><rect x="367.08" y="332.45" width="1.1" height="1.1" fill="#bdbdbd"/><rect x="371.15" y="332.45" width="1.1" height="1.1" fill="#bdbdbd"/><rect x="375.22" y="332.45" width="1.1" height="1.1" fill="#bdbdbd"/><rect x="379.29" y="332.45" width="1.1" height="1.1" fill="#bdbdbd"/><rect x="383.36" y="332.45" width="1.1" height="1.1" fill="#bdbdbd"/><rect x="387.42" y="332.45" width="1.1" height="1.1" fill="#bdbdbd"/><rect x="391.49" y="332.45" width="1.1" height="1.1" fill="#bdbdbd"/><rect x="395.56" y="332.45" width="1.1" height="1.1" fill="#bdbdbd"/><rect x="399.63" y="332.45" width="1.1" height="1.1" fill="#bdbdbd"/><rect x="403.70" y="332.45" width="1.1" height="1.1" fill="#bdbdbd"/><rect x="407.76" y="332.45" width="1.1" height="1.1" fill="#bdbdbd"/><rect x="411.83" y="332.45" width="1.1" height="1.1" fill="#bdbdbd"/><rect x="415.90" y="332.45" width="1.1" height="1.1" fill="#bdbdbd"/><rect x="419.97" y="332.45" width="1.1" height="1.1" fill="#bdbdbd"/><rect x="424.04" y="332.45" width="1.1" height="1.1" fill="#bdbdbd"/><rect x="428.10" y="332.45" width="1.1" height="1.1" fill="#bdbdbd"/><rect x="432.17" y="332.45" width="1.1" height="1.1" fill="#bdbdbd"/><rect x="436.24" y="332.45" width="1.1" height="1.1" fill="#bdbdbd"/><rect x="440.31" y="332.45" width="1.1" height="1.1" fill="#bdbdbd"/><rect x="444.38" y="332.45" width="1.1" height="1.1" fill="#bdbdbd"/><rect x="448.44" y="332.45" width="1.1" height="1.1" fill="#bdbdbd"/><rect x="452.51" y="332.45" width="1.1" height="1.1" fill="#bdbdbd"/><rect x="456.58" y="332.45" width="1.1" height="1.1" fill="#bdbdbd"/><rect x="460.65" y="332.45" width="1.1" height="1.1" fill="#bdbdbd"/><rect x="464.72" y="332.45" width="1.1" height="1.1" fill="#bdbdbd"/><rect x="468.78" y="332.45" width="1.1" height="1.1" fill="#bdbdbd"/><rect x="472.85" y="332.45" width="1.1" height="1.1" fill="#bdbdbd"/><rect x="476.92" y="332.45" width="1.1" height="1.1" fill="#bdbdbd"/><rect x="480.99" y="332.45" width="1.1" height="1.1" fill="#bdbdbd"/><rect x="485.06" y="332.45" width="1.1" height="1.1" fill="#bdbdbd"/><rect x="489.12" y="332.45" width="1.1" height="1.1" fill="#bdbdbd"/><rect x="493.19" y="332.45" width="1.1" height="1.1" fill="#bdbdbd"/><rect x="497.26" y="332.45" width="1.1" height="1.1" fill="#bdbdbd"/><rect x="501.33" y="332.45" width="1.1" height="1.1" fill="#bdbdbd"/><rect x="505.40" y="332.45" width="1.1" height="1.1" fill="#bdbdbd"/><rect x="509.46" y="332.45" width="1.1" height="1.1" fill="#bdbdbd"/><rect x="513.53" y="332.45" width="1.1" height="1.1" fill="#bdbdbd"/><rect x="517.60" y="332.45" width="1.1" height="1.1" fill="#bdbdbd"/><rect x="521.67" y="332.45" width="1.1" height="1.1" fill="#bdbdbd"/>
<rect x="9.10" y="351.20" width="1.1" height="1.1" fill="#bdbdbd"/><rect x="13.17" y="351.20" width="1.1" height="1.1" fill="#bdbdbd"/><rect x="17.24" y="351.20" width="1.1" height="1.1" fill="#bdbdbd"/><rect x="21.30" y="351.20" width="1.1" height="1.1" fill="#bdbdbd"/><rect x="25.37" y="351.20" width="1.1" height="1.1" fill="#bdbdbd"/><rect x="29.44" y="351.20" width="1.1" height="1.1" fill="#bdbdbd"/><rect x="33.51" y="351.20" width="1.1" height="1.1" fill="#bdbdbd"/><rect x="37.58" y="351.20" width="1.1" height="1.1" fill="#bdbdbd"/><rect x="41.64" y="351.20" width="1.1" height="1.1" fill="#bdbdbd"/><rect x="45.71" y="351.20" width="1.1" height="1.1" fill="#bdbdbd"/><rect x="49.78" y="351.20" width="1.1" height="1.1" fill="#bdbdbd"/><rect x="53.85" y="351.20" width="1.1" height="1.1" fill="#bdbdbd"/><rect x="57.92" y="351.20" width="1.1" height="1.1" fill="#bdbdbd"/><rect x="61.98" y="351.20" width="1.1" height="1.1" fill="#bdbdbd"/><rect x="66.05" y="351.20" width="1.1" height="1.1" fill="#bdbdbd"/><rect x="70.12" y="351.20" width="1.1" height="1.1" fill="#bdbdbd"/><rect x="74.19" y="351.20" width="1.1" height="1.1" fill="#bdbdbd"/><rect x="78.26" y="351.20" width="1.1" height="1.1" fill="#bdbdbd"/><rect x="82.32" y="351.20" width="1.1" height="1.1" fill="#bdbdbd"/><rect x="86.39" y="351.20" width="1.1" height="1.1" fill="#bdbdbd"/><rect x="90.46" y="351.20" width="1.1" height="1.1" fill="#bdbdbd"/><rect x="94.53" y="351.20" width="1.1" height="1.1" fill="#bdbdbd"/><rect x="98.60" y="351.20" width="1.1" height="1.1" fill="#bdbdbd"/><rect x="102.66" y="351.20" width="1.1" height="1.1" fill="#bdbdbd"/><rect x="106.73" y="351.20" width="1.1" height="1.1" fill="#bdbdbd"/><rect x="110.80" y="351.20" width="1.1" height="1.1" fill="#bdbdbd"/><rect x="114.87" y="351.20" width="1.1" height="1.1" fill="#bdbdbd"/><rect x="118.94" y="351.20" width="1.1" height="1.1" fill="#bdbdbd"/><rect x="123.00" y="351.20" width="1.1" height="1.1" fill="#bdbdbd"/><rect x="127.07" y="351.20" width="1.1" height="1.1" fill="#bdbdbd"/><rect x="131.14" y="351.20" width="1.1" height="1.1" fill="#bdbdbd"/><rect x="135.21" y="351.20" width="1.1" height="1.1" fill="#bdbdbd"/><rect x="139.28" y="351.20" width="1.1" height="1.1" fill="#bdbdbd"/><rect x="143.34" y="351.20" width="1.1" height="1.1" fill="#bdbdbd"/><rect x="147.41" y="351.20" width="1.1" height="1.1" fill="#bdbdbd"/><rect x="151.48" y="351.20" width="1.1" height="1.1" fill="#bdbdbd"/><rect x="155.55" y="351.20" width="1.1" height="1.1" fill="#bdbdbd"/><rect x="159.62" y="351.20" width="1.1" height="1.1" fill="#bdbdbd"/><rect x="163.68" y="351.20" width="1.1" height="1.1" fill="#bdbdbd"/><rect x="167.75" y="351.20" width="1.1" height="1.1" fill="#bdbdbd"/><rect x="171.82" y="351.20" width="1.1" height="1.1" fill="#bdbdbd"/><rect x="175.89" y="351.20" width="1.1" height="1.1" fill="#bdbdbd"/><rect x="179.96" y="351.20" width="1.1" height="1.1" fill="#bdbdbd"/><rect x="184.02" y="351.20" width="1.1" height="1.1" fill="#bdbdbd"/><rect x="188.09" y="351.20" width="1.1" height="1.1" fill="#bdbdbd"/><rect x="192.16" y="351.20" width="1.1" height="1.1" fill="#bdbdbd"/><rect x="196.23" y="351.20" width="1.1" height="1.1" fill="#bdbdbd"/><rect x="200.30" y="351.20" width="1.1" height="1.1" fill="#bdbdbd"/><rect x="204.36" y="351.20" width="1.1" height="1.1" fill="#bdbdbd"/><rect x="208.43" y="351.20" width="1.1" height="1.1" fill="#bdbdbd"/><rect x="212.50" y="351.20" width="1.1" height="1.1" fill="#bdbdbd"/><rect x="216.57" y="351.20" width="1.1" height="1.1" fill="#bdbdbd"/><rect x="220.64" y="351.20" width="1.1" height="1.1" fill="#bdbdbd"/><rect x="224.70" y="351.20" width="1.1" height="1.1" fill="#bdbdbd"/><rect x="228.77" y="351.20" width="1.1" height="1.1" fill="#bdbdbd"/><rect x="232.84" y="351.20" width="1.1" height="1.1" fill="#bdbdbd"/><rect x="236.91" y="351.20" width="1.1" height="1.1" fill="#bdbdbd"/><rect x="240.98" y="351.20" width="1.1" height="1.1" fill="#bdbdbd"/><rect x="245.04" y="351.20" width="1.1" height="1.1" fill="#bdbdbd"/><rect x="249.11" y="351.20" width="1.1" height="1.1" fill="#bdbdbd"/><rect x="253.18" y="351.20" width="1.1" height="1.1" fill="#bdbdbd"/><rect x="257.25" y="351.20" width="1.1" height="1.1" fill="#bdbdbd"/><rect x="261.32" y="351.20" width="1.1" height="1.1" fill="#bdbdbd"/><rect x="265.38" y="351.20" width="1.1" height="1.1" fill="#bdbdbd"/><rect x="269.45" y="351.20" width="1.1" height="1.1" fill="#bdbdbd"/><rect x="273.52" y="351.20" width="1.1" height="1.1" fill="#bdbdbd"/><rect x="277.59" y="351.20" width="1.1" height="1.1" fill="#bdbdbd"/><rect x="281.66" y="351.20" width="1.1" height="1.1" fill="#bdbdbd"/><rect x="285.72" y="351.20" width="1.1" height="1.1" fill="#bdbdbd"/><rect x="289.79" y="351.20" width="1.1" height="1.1" fill="#bdbdbd"/><rect x="293.86" y="351.20" width="1.1" height="1.1" fill="#bdbdbd"/><rect x="297.93" y="351.20" width="1.1" height="1.1" fill="#bdbdbd"/><rect x="302.00" y="351.20" width="1.1" height="1.1" fill="#bdbdbd"/><rect x="306.06" y="351.20" width="1.1" height="1.1" fill="#bdbdbd"/><rect x="310.13" y="351.20" width="1.1" height="1.1" fill="#bdbdbd"/><rect x="314.20" y="351.20" width="1.1" height="1.1" fill="#bdbdbd"/><rect x="318.27" y="351.20" width="1.1" height="1.1" fill="#bdbdbd"/><rect x="322.34" y="351.20" width="1.1" height="1.1" fill="#bdbdbd"/><rect x="326.40" y="351.20" width="1.1" height="1.1" fill="#bdbdbd"/><rect x="330.47" y="351.20" width="1.1" height="1.1" fill="#bdbdbd"/><rect x="334.54" y="351.20" width="1.1" height="1.1" fill="#bdbdbd"/><rect x="338.61" y="351.20" width="1.1" height="1.1" fill="#bdbdbd"/><rect x="342.68" y="351.20" width="1.1" height="1.1" fill="#bdbdbd"/><rect x="346.74" y="351.20" width="1.1" height="1.1" fill="#bdbdbd"/><rect x="350.81" y="351.20" width="1.1" height="1.1" fill="#bdbdbd"/><rect x="354.88" y="351.20" width="1.1" height="1.1" fill="#bdbdbd"/><rect x="358.95" y="351.20" width="1.1" height="1.1" fill="#bdbdbd"/><rect x="363.02" y="351.20" width="1.1" height="1.1" fill="#bdbdbd"/><rect x="367.08" y="351.20" width="1.1" height="1.1" fill="#bdbdbd"/><rect x="371.15" y="351.20" width="1.1" height="1.1" fill="#bdbdbd"/><rect x="375.22" y="351.20" width="1.1" height="1.1" fill="#bdbdbd"/><rect x="379.29" y="351.20" width="1.1" height="1.1" fill="#bdbdbd"/><rect x="383.36" y="351.20" width="1.1" height="1.1" fill="#bdbdbd"/><rect x="387.42" y="351.20" width="1.1" height="1.1" fill="#bdbdbd"/><rect x="391.49" y="351.20" width="1.1" height="1.1" fill="#bdbdbd"/><rect x="395.56" y="351.20" width="1.1" height="1.1" fill="#bdbdbd"/><rect x="399.63" y="351.20" width="1.1" height="1.1" fill="#bdbdbd"/><rect x="403.70" y="351.20" width="1.1" height="1.1" fill="#bdbdbd"/><rect x="407.76" y="351.20" width="1.1" height="1.1" fill="#bdbdbd"/><rect x="411.83" y="351.20" width="1.1" height="1.1" fill="#bdbdbd"/><rect x="415.90" y="351.20" width="1.1" height="1.1" fill="#bdbdbd"/><rect x="419.97" y="351.20" width="1.1" height="1.1" fill="#bdbdbd"/><rect x="424.04" y="351.20" width="1.1" height="1.1" fill="#bdbdbd"/><rect x="428.10" y="351.20" width="1.1" height="1.1" fill="#bdbdbd"/><rect x="432.17" y="351.20" width="1.1" height="1.1" fill="#bdbdbd"/><rect x="436.24" y="351.20" width="1.1" height="1.1" fill="#bdbdbd"/><rect x="440.31" y="351.20" width="1.1" height="1.1" fill="#bdbdbd"/><rect x="444.38" y="351.20" width="1.1" height="1.1" fill="#bdbdbd"/><rect x="448.44" y="351.20" width="1.1" height="1.1" fill="#bdbdbd"/><rect x="452.51" y="351.20" width="1.1" height="1.1" fill="#bdbdbd"/><rect x="456.58" y="351.20" width="1.1" height="1.1" fill="#bdbdbd"/><rect x="460.65" y="351.20" width="1.1" height="1.1" fill="#bdbdbd"/><rect x="464.72" y="351.20" width="1.1" height="1.1" fill="#bdbdbd"/><rect x="468.78" y="351.20" width="1.1" height="1.1" fill="#bdbdbd"/><rect x="472.85" y="351.20" width="1.1" height="1.1" fill="#bdbdbd"/><rect x="476.92" y="351.20" width="1.1" height="1.1" fill="#bdbdbd"/><rect x="480.99" y="351.20" width="1.1" height="1.1" fill="#bdbdbd"/><rect x="485.06" y="351.20" width="1.1" height="1.1" fill="#bdbdbd"/><rect x="489.12" y="351.20" width="1.1" height="1.1" fill="#bdbdbd"/><rect x="493.19" y="351.20" width="1.1" height="1.1" fill="#bdbdbd"/><rect x="497.26" y="351.20" width="1.1" height="1.1" fill="#bdbdbd"/><rect x="501.33" y="351.20" width="1.1" height="1.1" fill="#bdbdbd"/><rect x="505.40" y="351.20" width="1.1" height="1.1" fill="#bdbdbd"/><rect x="509.46" y="351.20" width="1.1" height="1.1" fill="#bdbdbd"/><rect x="513.53" y="351.20" width="1.1" height="1.1" fill="#bdbdbd"/><rect x="517.60" y="351.20" width="1.1" height="1.1" fill="#bdbdbd"/><rect x="521.67" y="351.20" width="1.1" height="1.1" fill="#bdbdbd"/>
<rect x="9.10" y="369.95" width="1.1" height="1.1" fill="#bdbdbd"/><rect x="13.17" y="369.95" width="1.1" height="1.1" fill="#bdbdbd"/><rect x="17.24" y="369.95" width="1.1" height="1.1" fill="#bdbdbd"/><rect x="21.30" y="369.95" width="1.1" height="1.1" fill="#bdbdbd"/><rect x="25.37" y="369.95" width="1.1" height="1.1" fill="#bdbdbd"/><rect x="29.44" y="369.95" width="1.1" height="1.1" fill="#bdbdbd"/><rect x="33.51" y="369.95" width="1.1" height="1.1" fill="#bdbdbd"/><rect x="37.58" y="369.95" width="1.1" height="1.1" fill="#bdbdbd"/><rect x="41.64" y="369.95" width="1.1" height="1.1" fill="#bdbdbd"/><rect x="45.71" y="369.95" width="1.1" height="1.1" fill="#bdbdbd"/><rect x="49.78" y="369.95" width="1.1" height="1.1" fill="#bdbdbd"/><rect x="53.85" y="369.95" width="1.1" height="1.1" fill="#bdbdbd"/><rect x="57.92" y="369.95" width="1.1" height="1.1" fill="#bdbdbd"/><rect x="61.98" y="369.95" width="1.1" height="1.1" fill="#bdbdbd"/><rect x="66.05" y="369.95" width="1.1" height="1.1" fill="#bdbdbd"/><rect x="70.12" y="369.95" width="1.1" height="1.1" fill="#bdbdbd"/><rect x="74.19" y="369.95" width="1.1" height="1.1" fill="#bdbdbd"/><rect x="78.26" y="369.95" width="1.1" height="1.1" fill="#bdbdbd"/><rect x="82.32" y="369.95" width="1.1" height="1.1" fill="#bdbdbd"/><rect x="86.39" y="369.95" width="1.1" height="1.1" fill="#bdbdbd"/><rect x="90.46" y="369.95" width="1.1" height="1.1" fill="#bdbdbd"/><rect x="94.53" y="369.95" width="1.1" height="1.1" fill="#bdbdbd"/><rect x="98.60" y="369.95" width="1.1" height="1.1" fill="#bdbdbd"/><rect x="102.66" y="369.95" width="1.1" height="1.1" fill="#bdbdbd"/><rect x="106.73" y="369.95" width="1.1" height="1.1" fill="#bdbdbd"/><rect x="110.80" y="369.95" width="1.1" height="1.1" fill="#bdbdbd"/><rect x="114.87" y="369.95" width="1.1" height="1.1" fill="#bdbdbd"/><rect x="118.94" y="369.95" width="1.1" height="1.1" fill="#bdbdbd"/><rect x="123.00" y="369.95" width="1.1" height="1.1" fill="#bdbdbd"/><rect x="127.07" y="369.95" width="1.1" height="1.1" fill="#bdbdbd"/><rect x="131.14" y="369.95" width="1.1" height="1.1" fill="#bdbdbd"/><rect x="135.21" y="369.95" width="1.1" height="1.1" fill="#bdbdbd"/><rect x="139.28" y="369.95" width="1.1" height="1.1" fill="#bdbdbd"/><rect x="143.34" y="369.95" width="1.1" height="1.1" fill="#bdbdbd"/><rect x="147.41" y="369.95" width="1.1" height="1.1" fill="#bdbdbd"/><rect x="151.48" y="369.95" width="1.1" height="1.1" fill="#bdbdbd"/><rect x="155.55" y="369.95" width="1.1" height="1.1" fill="#bdbdbd"/><rect x="159.62" y="369.95" width="1.1" height="1.1" fill="#bdbdbd"/><rect x="163.68" y="369.95" width="1.1" height="1.1" fill="#bdbdbd"/><rect x="167.75" y="369.95" width="1.1" height="1.1" fill="#bdbdbd"/><rect x="171.82" y="369.95" width="1.1" height="1.1" fill="#bdbdbd"/><rect x="175.89" y="369.95" width="1.1" height="1.1" fill="#bdbdbd"/><rect x="179.96" y="369.95" width="1.1" height="1.1" fill="#bdbdbd"/><rect x="184.02" y="369.95" width="1.1" height="1.1" fill="#bdbdbd"/><rect x="188.09" y="369.95" width="1.1" height="1.1" fill="#bdbdbd"/><rect x="192.16" y="369.95" width="1.1" height="1.1" fill="#bdbdbd"/><rect x="196.23" y="369.95" width="1.1" height="1.1" fill="#bdbdbd"/><rect x="200.30" y="369.95" width="1.1" height="1.1" fill="#bdbdbd"/><rect x="204.36" y="369.95" width="1.1" height="1.1" fill="#bdbdbd"/><rect x="208.43" y="369.95" width="1.1" height="1.1" fill="#bdbdbd"/><rect x="212.50" y="369.95" width="1.1" height="1.1" fill="#bdbdbd"/><rect x="216.57" y="369.95" width="1.1" height="1.1" fill="#bdbdbd"/><rect x="220.64" y="369.95" width="1.1" height="1.1" fill="#bdbdbd"/><rect x="224.70" y="369.95" width="1.1" height="1.1" fill="#bdbdbd"/><rect x="228.77" y="369.95" width="1.1" height="1.1" fill="#bdbdbd"/><rect x="232.84" y="369.95" width="1.1" height="1.1" fill="#bdbdbd"/><rect x="236.91" y="369.95" width="1.1" height="1.1" fill="#bdbdbd"/><rect x="240.98" y="369.95" width="1.1" height="1.1" fill="#bdbdbd"/><rect x="245.04" y="369.95" width="1.1" height="1.1" fill="#bdbdbd"/><rect x="249.11" y="369.95" width="1.1" height="1.1" fill="#bdbdbd"/><rect x="253.18" y="369.95" width="1.1" height="1.1" fill="#bdbdbd"/><rect x="257.25" y="369.95" width="1.1" height="1.1" fill="#bdbdbd"/><rect x="261.32" y="369.95" width="1.1" height="1.1" fill="#bdbdbd"/><rect x="265.38" y="369.95" width="1.1" height="1.1" fill="#bdbdbd"/><rect x="269.45" y="369.95" width="1.1" height="1.1" fill="#bdbdbd"/><rect x="273.52" y="369.95" width="1.1" height="1.1" fill="#bdbdbd"/><rect x="277.59" y="369.95" width="1.1" height="1.1" fill="#bdbdbd"/><rect x="281.66" y="369.95" width="1.1" height="1.1" fill="#bdbdbd"/><rect x="285.72" y="369.95" width="1.1" height="1.1" fill="#bdbdbd"/><rect x="289.79" y="369.95" width="1.1" height="1.1" fill="#bdbdbd"/><rect x="293.86" y="369.95" width="1.1" height="1.1" fill="#bdbdbd"/><rect x="297.93" y="369.95" width="1.1" height="1.1" fill="#bdbdbd"/><rect x="302.00" y="369.95" width="1.1" height="1.1" fill="#bdbdbd"/><rect x="306.06" y="369.95" width="1.1" height="1.1" fill="#bdbdbd"/><rect x="310.13" y="369.95" width="1.1" height="1.1" fill="#bdbdbd"/><rect x="314.20" y="369.95" width="1.1" height="1.1" fill="#bdbdbd"/><rect x="318.27" y="369.95" width="1.1" height="1.1" fill="#bdbdbd"/><rect x="322.34" y="369.95" width="1.1" height="1.1" fill="#bdbdbd"/><rect x="326.40" y="369.95" width="1.1" height="1.1" fill="#bdbdbd"/><rect x="330.47" y="369.95" width="1.1" height="1.1" fill="#bdbdbd"/><rect x="334.54" y="369.95" width="1.1" height="1.1" fill="#bdbdbd"/><rect x="338.61" y="369.95" width="1.1" height="1.1" fill="#bdbdbd"/><rect x="342.68" y="369.95" width="1.1" height="1.1" fill="#bdbdbd"/><rect x="346.74" y="369.95" width="1.1" height="1.1" fill="#bdbdbd"/><rect x="350.81" y="369.95" width="1.1" height="1.1" fill="#bdbdbd"/><rect x="354.88" y="369.95" width="1.1" height="1.1" fill="#bdbdbd"/><rect x="358.95" y="369.95" width="1.1" height="1.1" fill="#bdbdbd"/><rect x="363.02" y="369.95" width="1.1" height="1.1" fill="#bdbdbd"/><rect x="367.08" y="369.95" width="1.1" height="1.1" fill="#bdbdbd"/><rect x="371.15" y="369.95" width="1.1" height="1.1" fill="#bdbdbd"/><rect x="375.22" y="369.95" width="1.1" height="1.1" fill="#bdbdbd"/><rect x="379.29" y="369.95" width="1.1" height="1.1" fill="#bdbdbd"/><rect x="383.36" y="369.95" width="1.1" height="1.1" fill="#bdbdbd"/><rect x="387.42" y="369.95" width="1.1" height="1.1" fill="#bdbdbd"/><rect x="391.49" y="369.95" width="1.1" height="1.1" fill="#bdbdbd"/><rect x="395.56" y="369.95" width="1.1" height="1.1" fill="#bdbdbd"/><rect x="399.63" y="369.95" width="1.1" height="1.1" fill="#bdbdbd"/><rect x="403.70" y="369.95" width="1.1" height="1.1" fill="#bdbdbd"/><rect x="407.76" y="369.95" width="1.1" height="1.1" fill="#bdbdbd"/><rect x="411.83" y="369.95" width="1.1" height="1.1" fill="#bdbdbd"/><rect x="415.90" y="369.95" width="1.1" height="1.1" fill="#bdbdbd"/><rect x="419.97" y="369.95" width="1.1" height="1.1" fill="#bdbdbd"/><rect x="424.04" y="369.95" width="1.1" height="1.1" fill="#bdbdbd"/><rect x="428.10" y="369.95" width="1.1" height="1.1" fill="#bdbdbd"/><rect x="432.17" y="369.95" width="1.1" height="1.1" fill="#bdbdbd"/><rect x="436.24" y="369.95" width="1.1" height="1.1" fill="#bdbdbd"/><rect x="440.31" y="369.95" width="1.1" height="1.1" fill="#bdbdbd"/><rect x="444.38" y="369.95" width="1.1" height="1.1" fill="#bdbdbd"/><rect x="448.44" y="369.95" width="1.1" height="1.1" fill="#bdbdbd"/><rect x="452.51" y="369.95" width="1.1" height="1.1" fill="#bdbdbd"/><rect x="456.58" y="369.95" width="1.1" height="1.1" fill="#bdbdbd"/><rect x="460.65" y="369.95" width="1.1" height="1.1" fill="#bdbdbd"/><rect x="464.72" y="369.95" width="1.1" height="1.1" fill="#bdbdbd"/><rect x="468.78" y="369.95" width="1.1" height="1.1" fill="#bdbdbd"/><rect x="472.85" y="369.95" width="1.1" height="1.1" fill="#bdbdbd"/><rect x="476.92" y="369.95" width="1.1" height="1.1" fill="#bdbdbd"/><rect x="480.99" y="369.95" width="1.1" height="1.1" fill="#bdbdbd"/><rect x="485.06" y="369.95" width="1.1" height="1.1" fill="#bdbdbd"/><rect x="489.12" y="369.95" width="1.1" height="1.1" fill="#bdbdbd"/><rect x="493.19" y="369.95" width="1.1" height="1.1" fill="#bdbdbd"/><rect x="497.26" y="369.95" width="1.1" height="1.1" fill="#bdbdbd"/><rect x="501.33" y="369.95" width="1.1" height="1.1" fill="#bdbdbd"/><rect x="505.40" y="369.95" width="1.1" height="1.1" fill="#bdbdbd"/><rect x="509.46" y="369.95" width="1.1" height="1.1" fill="#bdbdbd"/><rect x="513.53" y="369.95" width="1.1" height="1.1" fill="#bdbdbd"/><rect x="517.60" y="369.95" width="1.1" height="1.1" fill="#bdbdbd"/><rect x="521.67" y="369.95" width="1.1" height="1.1" fill="#bdbdbd"/>
<path d="M12.00,334.50 C13.33,334.83 17.83,335.95 20.00,336.50 C22.17,337.05 22.85,337.42 25.00,337.80 C27.15,338.18 30.42,339.28 32.90,338.80 C35.38,338.32 37.42,336.22 39.90,334.90 C42.38,333.58 45.65,331.90 47.80,330.90 C49.95,329.90 50.97,329.35 52.80,328.90 C54.63,328.45 56.82,328.12 58.80,328.20 C60.78,328.28 62.38,328.62 64.70,329.40 C67.02,330.18 70.05,331.67 72.70,332.90 C75.35,334.13 78.22,335.70 80.60,336.80 C82.98,337.90 84.60,338.76 87.00,339.50 C89.40,340.24 92.00,340.88 95.00,341.25 C98.00,341.62 101.67,341.54 105.00,341.75 C108.33,341.96 111.67,342.25 115.00,342.50 C118.33,342.75 121.67,342.50 125.00,343.25 C128.33,344.00 131.67,345.54 135.00,347.00 C138.33,348.46 142.50,351.00 145.00,352.00 C147.50,353.00 147.50,352.42 150.00,353.00 C152.50,353.58 156.67,355.58 160.00,355.50 C163.33,355.42 166.67,353.50 170.00,352.50 C173.33,351.50 177.08,350.21 180.00,349.50 C182.92,348.79 185.00,348.17 187.50,348.25 C190.00,348.33 192.08,348.67 195.00,350.00 C197.92,351.33 201.67,354.38 205.00,356.25 C208.33,358.12 211.67,359.79 215.00,361.25 C218.33,362.71 222.29,364.04 225.00,365.00 C227.71,365.96 228.75,366.79 231.25,367.00 C233.75,367.21 236.88,366.58 240.00,366.25 C243.12,365.92 246.67,365.62 250.00,365.00 C253.33,364.38 256.67,363.42 260.00,362.50 C263.33,361.58 266.67,360.54 270.00,359.50 C273.33,358.46 276.67,357.21 280.00,356.25 C283.33,355.29 286.67,354.38 290.00,353.75 C293.33,353.12 296.67,353.00 300.00,352.50 C303.33,352.00 306.67,351.79 310.00,350.75 C313.33,349.71 316.67,347.54 320.00,346.25 C323.33,344.96 327.08,343.96 330.00,343.00 C332.92,342.04 335.00,340.67 337.50,340.50 C340.00,340.33 342.08,341.46 345.00,342.00 C347.92,342.54 351.67,343.25 355.00,343.75 C358.33,344.25 361.67,344.71 365.00,345.00 C368.33,345.29 371.67,345.29 375.00,345.50 C378.33,345.71 381.67,345.83 385.00,346.25 C388.33,346.67 392.08,348.29 395.00,348.00 C397.92,347.71 400.00,345.50 402.50,344.50 C405.00,343.50 407.29,342.62 410.00,342.00 C412.71,341.38 415.83,340.96 418.75,340.75 C421.67,340.54 425.00,340.12 427.50,340.75 C430.00,341.38 431.67,343.04 433.75,344.50 C435.83,345.96 437.71,348.67 440.00,349.50 C442.29,350.33 444.58,349.62 447.50,349.50 C450.42,349.38 454.17,349.21 457.50,348.75 C460.83,348.29 464.58,347.38 467.50,346.75 C470.42,346.12 472.50,345.71 475.00,345.00 C477.50,344.29 481.25,342.92 482.50,342.50" fill="none" stroke="#ff6a6a" stroke-width="1.35"/>
<polyline points="12.0,342.5 15.0,338.8 20.0,337.5 25.0,335.9 30.0,334.4 34.9,329.9 37.9,326.4 41.4,324.9 44.9,322.0 48.3,321.8 49.8,324.0 51.3,328.9 53.3,332.9 54.8,331.9 56.8,331.7 59.3,333.9 62.7,339.8 66.7,343.3 69.7,340.3 73.7,339.0 76.6,339.8 80.6,343.8 84.6,344.3 87.0,344.5 90.0,345.5 93.0,341.2 98.0,340.8 103.0,339.5 108.0,340.8 112.0,341.2 115.0,348.8 120.0,347.0 125.0,346.2 127.0,343.8 130.0,350.0 135.0,355.0 138.0,355.0 141.0,362.5 145.0,357.5 150.0,358.0 155.0,352.5 160.0,349.5 165.0,346.2 170.0,340.8 173.8,350.0 177.5,346.2 181.2,353.8 185.0,348.8 188.8,355.0 193.8,353.8 200.0,363.8 205.0,365.0 210.8,371.2 215.0,365.0 220.0,363.8 225.0,366.2 230.0,367.5 235.0,365.0 240.0,364.5 245.0,363.0 248.8,360.5 252.5,362.0 256.2,358.8 262.5,357.0 267.5,355.8 273.8,353.8 277.5,353.2 281.2,350.5 285.0,353.0 290.0,352.0 295.0,351.2 298.8,355.0 302.5,358.8 306.2,348.8 310.0,344.5 313.8,333.8 317.5,336.2 322.5,339.2 327.5,340.8 332.5,339.5 336.2,343.0 340.0,345.0 343.8,348.8 347.5,347.0 351.2,342.0 354.2,338.0 357.5,343.0 361.2,348.8 365.0,344.5 368.8,343.0 372.5,346.2 377.5,348.8 383.0,352.0 387.5,349.5 391.2,351.2 395.0,350.0 397.5,330.0 401.2,330.5 405.0,329.5 408.8,332.5 412.5,352.0 416.2,347.0 420.0,346.2 423.8,350.8 427.5,351.2 431.2,353.0 435.0,351.2 438.8,352.5 442.5,347.5 446.2,347.5 450.0,347.0 453.8,345.5 457.5,347.0 461.2,344.5 465.0,345.0 468.8,347.0 472.5,343.8 476.2,340.0 480.0,336.2 483.8,338.0" fill="none" stroke="#8aa7f2" stroke-width="1.05" stroke-linejoin="round"/>
<rect x="486.80" y="337.35" width="1.5" height="1.3" fill="#8aa6f0"/><rect x="490.90" y="337.35" width="1.5" height="1.3" fill="#8aa6f0"/><rect x="495.00" y="337.35" width="1.5" height="1.3" fill="#8aa6f0"/><rect x="499.10" y="337.35" width="1.5" height="1.3" fill="#8aa6f0"/><rect x="503.20" y="337.35" width="1.5" height="1.3" fill="#8aa6f0"/><rect x="507.30" y="337.35" width="1.5" height="1.3" fill="#8aa6f0"/><rect x="511.40" y="337.35" width="1.5" height="1.3" fill="#8aa6f0"/><rect x="515.50" y="337.35" width="1.5" height="1.3" fill="#8aa6f0"/><rect x="519.60" y="337.35" width="1.5" height="1.3" fill="#8aa6f0"/>
<text x="532" y="336.6" class="ax">70</text>
<text x="532" y="355.4" class="ax">50</text>
<text x="532" y="374.1" class="ax">30</text>
<rect x="8" y="381" width="515" height="2" fill="#a0a0a0"/>
<rect x="8" y="381" width="2" height="7" fill="#a0a0a0"/>
<rect x="521.5" y="381" width="2" height="7" fill="#a0a0a0"/>
<text x="115.1" y="399.6" class="ax" text-anchor="middle">Jul 12</text>
<text x="291.7" y="399.6" class="ax" text-anchor="middle">Jul 13</text>
<text x="468.3" y="399.6" class="ax" text-anchor="middle">Jul 14</text>
</svg>
</body></html>
